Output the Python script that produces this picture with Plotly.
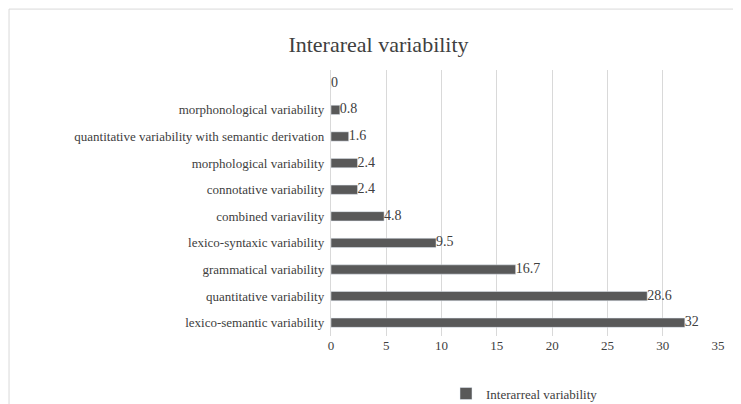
import plotly.graph_objects as go

categories = ["lexico-semantic variability", "quantitative variability", "grammatical variability",
              "lexico-syntaxic variability", "combined variavility", "connotative variability",
              "morphological variability", "quantitative variability with semantic derivation",
              "morphonological variability", " "]
values = [32, 28.6, 16.7, 9.5, 4.8, 2.4, 2.4, 1.6, 0.8, 0]
labels = ["32", "28.6", "16.7", "9.5", "4.8", "2.4", "2.4", "1.6", "0.8", "0"]

fig = go.Figure(go.Bar(
    y=categories, x=values, orientation="h", name="Interarreal variability",
    marker_color="#595959", width=0.35,
))
# value labels as a text trace so they keep full size
fig.add_trace(go.Scatter(
    y=categories, x=values, mode="text", text=labels, textposition="middle right",
    textfont=dict(size=14, color="#404040"), showlegend=False, cliponaxis=False,
    hoverinfo="skip",
))

fig.update_layout(
    width=741, height=404,
    paper_bgcolor="white", plot_bgcolor="white",
    font=dict(family="Liberation Serif, Times New Roman, serif", size=13, color="#404040"),
    title=dict(text="Interareal variability", x=0.5, xanchor="center", y=0.93,
               font=dict(size=22, color="#404040")),
    margin=dict(l=323, r=31, t=62, b=76, autoexpand=False),
    xaxis=dict(range=[0, 35], dtick=5, showgrid=True, gridcolor="#d9d9d9",
               zeroline=False, ticks="", tickfont=dict(size=13), automargin=False),
    yaxis=dict(showgrid=False, ticks="", showline=True, linecolor="#d9d9d9",
               ticksuffix=" ", automargin=False, tickfont=dict(size=13)),
    showlegend=True,
    legend=dict(orientation="h", x=0.5, xanchor="center", y=-0.16, yanchor="top",
                font=dict(size=13), itemwidth=30),
    shapes=[dict(type="rect", xref="paper", yref="paper", x0=-0.832, x1=1.075,
                 y0=-0.282, y1=1.229, line=dict(color="#d9d9d9", width=1))],
)

fig.write_html("out.html")
